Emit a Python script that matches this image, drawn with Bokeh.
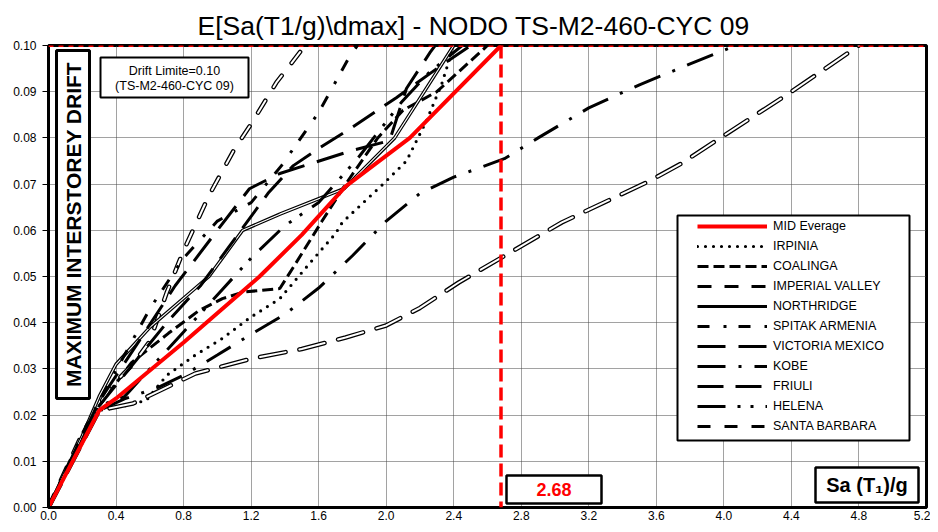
import math
from bokeh.plotting import figure
from bokeh.models import (FixedTicker, NumeralTickFormatter, Span, Label, BoxAnnotation,
                          Legend, LegendItem, Range1d)
from bokeh.embed import file_html
from bokeh.resources import INLINE

# ---------------- data (Sa(T1)/g , max interstorey drift) ----------------
x_ticks = [0.0, 0.4, 0.8, 1.2, 1.6, 2.0, 2.4, 2.8, 3.2, 3.6, 4.0, 4.4, 4.8, 5.2]
y_ticks = [0.00, 0.01, 0.02, 0.03, 0.04, 0.05, 0.06, 0.07, 0.08, 0.09, 0.10]
drift_limit = 0.10

sa_mid = [0, 0.3, 0.4, 0.8, 1.25, 1.5, 1.76, 2.14, 2.68]
dr_mid = [0, 0.021, 0.0236, 0.0357, 0.050, 0.059, 0.0695, 0.080, 0.100]

sa_irpinia = [0, 0.3, 0.45, 0.58, 0.7, 0.87, 1.03, 1.19, 1.37, 1.55, 1.70, 1.74, 1.99, 2.12, 2.24, 2.33, 2.40]
dr_irpinia = [0, 0.021, 0.022, 0.0232, 0.0286, 0.033, 0.0366, 0.041, 0.0452, 0.053, 0.0593, 0.0617, 0.0703, 0.075, 0.0838, 0.0918, 0.100]

sa_coalinga = [0, 0.2, 0.3, 0.49, 0.71, 0.89, 1.03, 1.15, 1.37, 1.45, 1.62, 1.76, 1.95, 2.1, 2.3, 2.45, 2.6]
dr_coalinga = [0, 0.015, 0.022, 0.0313, 0.0377, 0.0426, 0.0452, 0.0466, 0.0474, 0.052, 0.062, 0.070, 0.080, 0.086, 0.090, 0.095, 0.100]

sa_imperial = [0, 0.2, 0.36, 0.5, 0.6, 0.7, 0.8, 0.95, 1.1, 1.2, 1.35, 1.52]
dr_imperial = [0, 0.016, 0.0258, 0.031, 0.036, 0.0465, 0.0556, 0.0675, 0.0775, 0.083, 0.092, 0.100]

sa_northridge = [0, 0.2, 0.3, 0.4, 0.6, 0.95, 1.15, 1.37, 1.75, 2.05, 2.4]
dr_northridge = [0, 0.0155, 0.024, 0.031, 0.039, 0.050, 0.060, 0.0635, 0.069, 0.080, 0.100]

sa_spitak = [0, 0.2, 0.3, 0.45, 0.6, 0.8, 1.0, 1.2, 1.38, 1.6, 1.78, 1.83]
dr_spitak = [0, 0.016, 0.023, 0.033, 0.043, 0.054, 0.062, 0.066, 0.074, 0.0855, 0.0974, 0.100]

sa_victoria = [0, 0.3, 0.5, 0.75, 1.0, 1.19, 1.37, 1.56, 1.8, 2.02, 2.12, 2.26, 2.29]
dr_victoria = [0, 0.023, 0.034, 0.048, 0.060, 0.069, 0.0723, 0.0745, 0.0773, 0.0794, 0.0907, 0.0985, 0.100]

sa_kobe = [0, 0.3, 0.45, 0.65, 0.8, 1.0, 1.2, 1.4, 1.6, 1.8, 2.0, 2.2, 2.4, 2.7, 2.9, 3.2, 3.5, 3.8, 4.07]
dr_kobe = [0, 0.021, 0.0235, 0.026, 0.0286, 0.033, 0.0375, 0.0418, 0.0475, 0.0545, 0.062, 0.068, 0.0715, 0.0755, 0.080, 0.0865, 0.0915, 0.096, 0.100]

sa_friuli = [0, 0.3, 0.5, 0.7, 0.9, 1.1, 1.3, 1.45, 1.6, 1.8, 2.06, 2.3, 2.5]
dr_friuli = [0, 0.022, 0.031, 0.040, 0.048, 0.058, 0.068, 0.074, 0.0777, 0.0823, 0.0887, 0.095, 0.100]

sa_helena = [0, 0.3, 0.45, 0.6, 0.8, 1.0, 1.2, 1.4, 1.6, 1.83, 2.09, 2.25, 2.45]
dr_helena = [0, 0.022, 0.024, 0.030, 0.038, 0.046, 0.054, 0.061, 0.066, 0.0755, 0.0877, 0.094, 0.100]

sa_santabarbara = [0, 0.3, 0.5, 0.87, 1.2, 1.5, 1.76, 2.0, 2.2, 2.43, 3.04, 3.55, 3.75, 4.0, 4.4, 4.8]
dr_santabarbara = [0, 0.021, 0.0225, 0.029, 0.0322, 0.0343, 0.0368, 0.0394, 0.0432, 0.0487, 0.0617, 0.0705, 0.0745, 0.0805, 0.090, 0.100]

FONT = "Liberation Sans"

p = figure(width=930, height=524, output_backend="svg", toolbar_location=None,
           x_range=Range1d(0, 5.2), y_range=Range1d(0, 0.1),
           min_border_left=48, min_border_right=4, min_border_top=45, min_border_bottom=17,
           title=r"E[Sa(T1/g)\dmax] - NODO TS-M2-460-CYC 09")
p.title.text_font = FONT
p.title.text_font_size = "26.5px"
p.title.text_font_style = "normal"
p.title.align = "left"
p.title.offset = 149
p.title.text_color = "black"
p.background_fill_color = "white"
p.border_fill_color = "white"
p.outline_line_color = "black"
p.outline_line_width = 3

p.xaxis.ticker = FixedTicker(ticks=x_ticks)
p.yaxis.ticker = FixedTicker(ticks=y_ticks)
p.xaxis.formatter = NumeralTickFormatter(format="0.0")
p.yaxis.formatter = NumeralTickFormatter(format="0.00")
for ax in (p.xaxis, p.yaxis):
    ax.axis_line_width = 3
    ax.axis_line_color = "black"
    ax.major_label_text_font = FONT
    ax.major_label_text_font_size = "12px"
    ax.major_label_text_color = "black"
    ax.minor_tick_line_color = None
p.xaxis.major_tick_out = 0
p.xaxis.major_tick_in = 0
p.xaxis.major_label_standoff = 3
p.yaxis.major_tick_out = 6
p.yaxis.major_tick_in = 0
p.yaxis.major_label_standoff = 6
p.yaxis.major_tick_line_color = "black"

p.xgrid.ticker = FixedTicker(ticks=x_ticks)
p.ygrid.ticker = FixedTicker(ticks=y_ticks)
for g in (p.xgrid, p.ygrid):
    g.grid_line_color = "#444444"
    g.grid_line_width = 1
    g.grid_line_dash = "1 1"


def curve(sa, dr, dash, width=3):
    return p.line(sa, dr, line_color="black", line_width=width, line_dash=dash, line_cap="butt")


def hollow(sa, dr, dash):
    p.line(sa, dr, line_color="black", line_width=4.5, line_dash=dash, line_cap="round")
    p.line(sa, dr, line_color="white", line_width=2, line_dash=dash, line_cap="round")


# ---------------- curves ----------------
r_irp = p.line(sa_irpinia, dr_irpinia, line_color="black", line_width=3.2, line_dash="0 8", line_cap="round")
r_coa = curve(sa_coalinga, dr_coalinga, "11 5")
hollow(sa_imperial, dr_imperial, "14 16")
p.line(sa_northridge, dr_northridge, line_color="black", line_width=3.5)
p.line(sa_northridge, dr_northridge, line_color="white", line_width=1.1)
r_spi = curve(sa_spitak, dr_spitak, "12 14 3 12")
r_vic = curve(sa_victoria, dr_victoria, "28 13")
r_kob = curve(sa_kobe, dr_kobe, "28 13 3 13")
r_fri = curve(sa_friuli, dr_friuli, "26 12")
r_hel = curve(sa_helena, dr_helena, "28 12 3 10 3 12")
hollow(sa_santabarbara, dr_santabarbara, "26 14")
r_mid = p.line(sa_mid, dr_mid, line_color="red", line_width=4)

# legend-only proxies for series drawn with hollow/double strokes (NaN -> nothing drawn)
nan = [float("nan")]
l_imp = p.line(nan, nan, line_color="black", line_width=3, line_dash="14 13")
l_nor = p.line(nan, nan, line_color="black", line_width=3)
l_sb = p.line(nan, nan, line_color="black", line_width=3, line_dash="13 14")

# ---------------- limits ----------------
p.add_layout(Span(location=drift_limit, dimension="width", line_color="red",
                  line_width=3, line_dash="5 5"))
p.add_layout(Span(location=sa_mid[-1], dimension="height", line_color="red",
                  line_width=3.5, line_dash="13 6"))

# ---------------- boxes & texts ----------------
def box(l, r, b, t, w=2.5):
    p.add_layout(BoxAnnotation(left=l, right=r, bottom=b, top=t,
                               left_units="screen", right_units="screen",
                               bottom_units="screen", top_units="screen",
                               fill_color="white", fill_alpha=1,
                               line_color="black", line_alpha=1, line_width=w))


def label(x, y, text, size, color="black", style="normal", angle=0):
    p.add_layout(Label(x=x, y=y, x_units="screen", y_units="screen", text=text,
                       angle=angle, text_align="center", text_baseline="middle",
                       text_font=FONT, text_font_size=size, text_color=color,
                       text_font_style=style))


box(8, 41, 109, 457, 3)
label(25, 283, "MAXIMUM INTERSTOREY DRIFT", "21px", style="bold", angle=math.pi / 2)

box(52, 200, 410, 450, 2)
label(126, 437, "Drift Limite=%.2f" % drift_limit, "12.5px")
label(126, 422, "(TS-M2-460-CYC 09)", "12.5px")

box(458, 553, 4, 32, 2.5)
label(505.5, 18, "%.2f" % sa_mid[-1], "18px", color="red", style="bold")

box(767, 870, 5, 40, 2.5)
label(818.5, 22.5, "Sa (T\u2081)/g", "20px", style="bold")

# ---------------- legend ----------------
box(629, 861, 67, 292, 2)
legend = Legend(items=[
    LegendItem(label="MID Everage", renderers=[r_mid]),
    LegendItem(label="IRPINIA", renderers=[r_irp]),
    LegendItem(label="COALINGA", renderers=[r_coa]),
    LegendItem(label="IMPERIAL VALLEY", renderers=[l_imp]),
    LegendItem(label="NORTHRIDGE", renderers=[l_nor]),
    LegendItem(label="SPITAK ARMENIA", renderers=[r_spi]),
    LegendItem(label="VICTORIA MEXICO", renderers=[r_vic]),
    LegendItem(label="KOBE", renderers=[r_kob]),
    LegendItem(label="FRIULI", renderers=[r_fri]),
    LegendItem(label="HELENA", renderers=[r_hel]),
    LegendItem(label="SANTA BARBARA", renderers=[l_sb]),
], location=(647, 69))
legend.glyph_width = 70
legend.glyph_height = 20
legend.label_height = 20
legend.spacing = 0
legend.padding = 2
legend.margin = 0
legend.label_standoff = 6
legend.label_text_font = FONT
legend.label_text_font_size = "12.5px"
legend.label_text_color = "black"
legend.border_line_alpha = 0
legend.background_fill_alpha = 0
p.add_layout(legend)

open("out.html", "w").write(file_html(p, INLINE))
